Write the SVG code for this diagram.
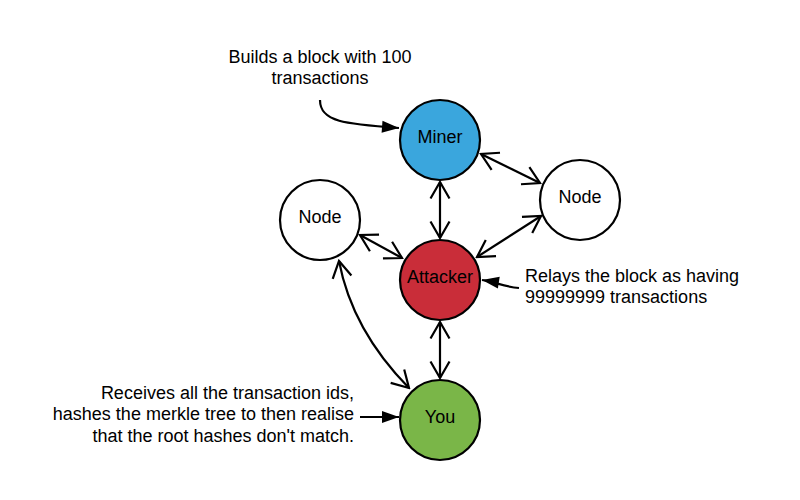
<svg xmlns="http://www.w3.org/2000/svg" width="800" height="500" viewBox="0 0 800 500">
<style>
text{font-family:"Liberation Sans",Arial,sans-serif;font-size:18px;fill:#000}
.node circle{stroke:#000;stroke-width:2.2}
.c{text-anchor:middle}
.e{text-anchor:end}
.link{fill:none;stroke:#000;stroke-width:2.2;marker-start:url(#open);marker-end:url(#open)}
.ann{fill:none;stroke:#000;stroke-width:2.2;marker-end:url(#solid)}
</style>
<defs>
<marker id="open" viewBox="-20 -13 22 26" refX="0" refY="0" markerWidth="22" markerHeight="26" markerUnits="userSpaceOnUse" orient="auto-start-reverse">
<path d="M-16.5,-9.5 L0,0 L-16.5,9.5" fill="none" stroke="#000" stroke-width="2.2"/>
</marker>
<marker id="solid" viewBox="-19 -8 20 16" refX="0" refY="0" markerWidth="20" markerHeight="16" markerUnits="userSpaceOnUse" orient="auto">
<path d="M-17,-6 L0,0 L-17,6 Z" fill="#000"/>
</marker>
</defs>
<rect width="800" height="500" fill="#fff"/>
<g id="connectors">
<line class="link" x1="440" y1="182" x2="440" y2="238"/>
<line class="link" x1="481" y1="154" x2="540" y2="183"/>
<line class="link" x1="477" y1="257" x2="541" y2="216"/>
<line class="link" x1="360" y1="235" x2="402" y2="258"/>
<line class="link" x1="440" y1="322" x2="440" y2="378"/>
<path class="link" d="M339,261 Q352,330 409,388"/>
<path class="ann" d="M320,100 C320,122 345,124 399,128"/>
<path class="ann" d="M519,288 C505,287 495,282 482,280"/>
<line class="ann" x1="360" y1="417" x2="399" y2="417"/>
</g>
<g id="miner" class="node"><circle cx="440" cy="140" r="40" fill="#3AA6DD"/><text class="c" x="440" y="143">Miner</text></g>
<g id="node-right" class="node"><circle cx="580" cy="200" r="40" fill="#fff"/><text class="c" x="580" y="203">Node</text></g>
<g id="node-left" class="node"><circle cx="320" cy="220" r="40" fill="#fff"/><text class="c" x="320" y="223">Node</text></g>
<g id="attacker" class="node"><circle cx="440" cy="280" r="40" fill="#C92D39"/><text class="c" x="440" y="283">Attacker</text></g>
<g id="you" class="node"><circle cx="440" cy="420" r="40" fill="#7AB648"/><text class="c" x="440" y="423">You</text></g>
<g id="labels">
<text class="c" x="320" y="63">Builds a block with 100</text>
<text class="c" x="320" y="84">transactions</text>
<text x="525" y="282">Relays the block as having</text>
<text x="525" y="303">99999999 transactions</text>
<text class="e" x="354" y="399">Receives all the transaction ids,</text>
<text class="e" x="354" y="420">hashes the merkle tree to then realise</text>
<text class="e" x="354" y="442">that the root hashes don't match.</text>
</g>
</svg>
